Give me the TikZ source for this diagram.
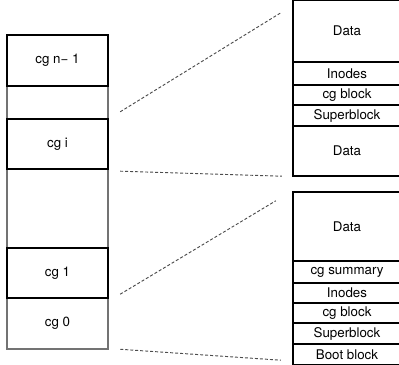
\documentclass[tikz,border=0pt]{standalone}
\usepackage{fontspec}
\setmainfont{TeX Gyre Heros}
\tikzset{
  disk/.style={draw=black!55, line width=1pt, minimum width=75.75pt, inner sep=0pt},
  cgbox/.style={draw, line width=1.8pt, minimum width=75.75pt, inner sep=0pt},
  blk/.style={draw, line width=1.8pt, minimum width=81pt, inner sep=0pt},
  link/.style={draw=black!70, line width=0.7pt, dash pattern=on 2.25pt off 1.5pt}
}
\begin{document}
\begin{tikzpicture}[x=0.75pt, y=-0.75pt, font=\fontsize{10}{12}\selectfont]
    \useasboundingbox (0,0) rectangle (399,364);
    % cylinder groups on the disk
    \node[disk, minimum height=235.5pt] (disk) at (57.5,192) {};
    \node[cgbox, minimum height=38.25pt] (cgn) at (57.5,60.5) {cg n− 1};
    \node[cgbox, minimum height=37.5pt] (cgi) at (57.5,144) {cg i};
    \node[cgbox, minimum height=37.5pt] (cg1) at (57.5,273) {cg 1};
    \node[minimum width=75.75pt, minimum height=38.25pt, inner sep=0pt] (cg0) at (57.5,323.5) {cg 0};
    % layout of cg i
    \node[blk, minimum height=46.5pt] (i-data) at (347,31) {Data};
    \node[blk, minimum height=17.25pt] (i-inodes) at (347,73.5) {Inodes};
    \node[blk, minimum height=15pt] (i-cgblk) at (347,95) {cg block};
    \node[blk, minimum height=15.75pt] (i-super) at (347,115.5) {Superblock};
    \node[blk, minimum height=37.5pt] (i-data2) at (347,151) {Data};
    % layout of cg 0
    \node[blk, minimum height=51.75pt] (z-data) at (347,226.5) {Data};
    \node[blk, minimum height=16.5pt] (z-summary) at (347,272) {cg summary};
    \node[blk, minimum height=15pt] (z-inodes) at (347,293) {Inodes};
    \node[blk, minimum height=15pt] (z-cgblk) at (347,313) {cg block};
    \node[blk, minimum height=15.75pt] (z-super) at (347,333.5) {Superblock};
    \node[blk, minimum height=15.75pt] (z-boot) at (347,354.5) {Boot block};
    % zoom lines
    \draw[link] ([shift={(11,-6)}]cgi.north east) -- ([shift={(-11,14)}]i-data.north west);
    \draw[link] ([shift={(11,1)}]cgi.south east) -- ([shift={(-10,-1)}]i-data2.south west);
    \draw[link] ([shift={(11,-5)}]cg1.south east) -- ([shift={(-16,10)}]z-data.north west);
    \draw[link] ([shift={(12,0)}]cg0.south east) -- ([shift={(-11,-6)}]z-boot.south west);
\end{tikzpicture}
\end{document}
